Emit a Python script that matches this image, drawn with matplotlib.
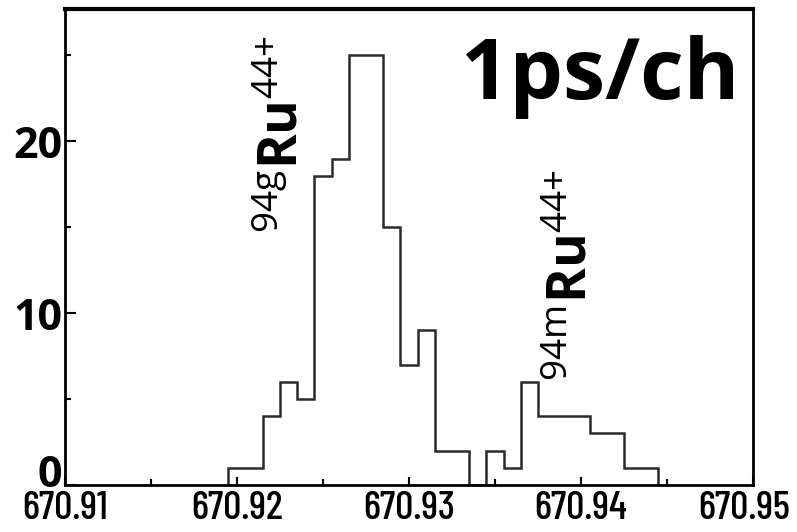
import matplotlib
matplotlib.use("Agg")
import matplotlib.pyplot as plt
import matplotlib.transforms as mtransforms
import numpy as np
from matplotlib.ticker import MultipleLocator

# histogram: 1 ps per channel, bin edges in the x unit shown on the axis
bin_start = 670.9195
bin_width = 0.001
counts = [1, 1, 4, 6, 5, 18, 19, 25, 25, 15, 7, 9, 2, 2, 0,
          2, 1, 6, 4, 4, 4, 3, 3, 1, 1]
edges = bin_start + bin_width * np.arange(len(counts) + 1)

xticks = [670.91, 670.92, 670.93, 670.94, 670.95]
xlabels = ["670.91", "670.92", "670.93", "670.94", "670.95"]
yticks = [0, 10, 20]

plt.rcParams['font.family'] = ['Open Sans', 'DejaVu Sans']
plt.rcParams['mathtext.fontset'] = 'custom'
plt.rcParams['mathtext.rm'] = 'Open Sans'
plt.rcParams['mathtext.bf'] = 'Open Sans:bold'
plt.rcParams['mathtext.it'] = 'Open Sans:italic'

fig = plt.figure(figsize=(7.97, 5.32), dpi=100)
ax = fig.add_axes([0.0816, 0.0883, 0.8632, 0.8947])

ax.stairs(counts, edges, color='#2b2b2b', linewidth=1.8, baseline=0)

ax.set_xlim(670.91, 670.95)
ax.set_ylim(0, 27.7)

ax.set_xticks(xticks)
ax.set_xticklabels(xlabels, family=['Barlow Condensed', 'DejaVu Sans'],
                   fontsize=29, fontweight='medium')
ax.xaxis.set_minor_locator(MultipleLocator(0.005))
ax.set_yticks(yticks)
ax.set_yticklabels([str(v) for v in yticks], fontsize=31, fontweight='bold')
ax.yaxis.set_minor_locator(MultipleLocator(5))

ax.tick_params(axis='both', which='major', direction='in', width=1.5)
ax.tick_params(axis='y', which='major', length=8, pad=2)
ax.tick_params(axis='x', which='major', length=6, pad=4)
ax.tick_params(axis='both', which='minor', direction='in', width=1.5, length=4)

# nudge the "0" label up and the last x label left, as in the original figure
lab0 = ax.get_yticklabels()[0]
lab0.set_transform(lab0.get_transform() + mtransforms.ScaledTranslation(0, 15 / 100, fig.dpi_scale_trans))
lab_last = ax.get_xticklabels()[-1]
lab_last.set_transform(lab_last.get_transform() + mtransforms.ScaledTranslation(-9 / 100, 0, fig.dpi_scale_trans))

for side in ['left', 'bottom', 'right']:
    ax.spines[side].set_linewidth(2)
ax.spines['top'].set_linewidth(3)

ax.text(0.778, 0.857, "1ps/ch", transform=ax.transAxes, ha='center', va='center',
        fontsize=61, fontweight='bold')

ax.text(670.9227, 20.4, r'${}^{\mathrm{94g}}\mathbf{Ru}^{\mathrm{44{+}}}$', rotation=90,
        ha='center', va='center', fontsize=38)
ax.text(670.9395, 12.2, r'${}^{\mathrm{94m}}\mathbf{Ru}^{\mathrm{44{+}}}$', rotation=90,
        ha='center', va='center', fontsize=38)

fig.savefig("out.png", dpi=100)
